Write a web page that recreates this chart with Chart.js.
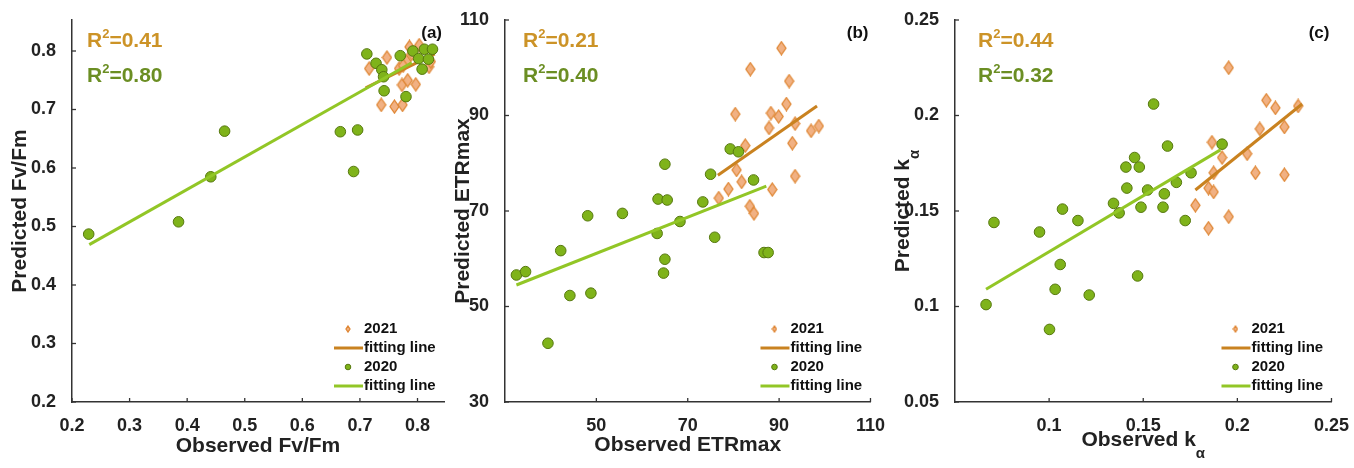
<!DOCTYPE html>
<html>
<head>
<meta charset="utf-8">
<script src="https://cdn.jsdelivr.net/npm/chart.js@4.4.1/dist/chart.umd.min.js"></script>
<style>
body { margin: 0; background: #fff; width: 1354px; height: 468px; overflow: hidden; position: relative; }
.panel { position: absolute; top: 0; height: 468px; }
</style>
</head>
<body>
<div class="panel" style="left:0;width:451px"><canvas id="chartA" width="451" height="468"></canvas></div>
<div class="panel" style="left:451px;width:439px"><canvas id="chartB" width="439" height="468"></canvas></div>
<div class="panel" style="left:890px;width:464px"><canvas id="chartC" width="464" height="468"></canvas></div>
<script>
// ---- (a) Fv/Fm ----
const obsA2020  = [0.229, 0.385, 0.441, 0.465, 0.666, 0.696, 0.689, 0.712, 0.728, 0.738, 0.741, 0.742, 0.770, 0.792, 0.802, 0.812, 0.826, 0.808, 0.780, 0.819];
const predA2020 = [0.487, 0.508, 0.585, 0.663, 0.662, 0.665, 0.594, 0.795, 0.779, 0.768, 0.756, 0.732, 0.792, 0.800, 0.787, 0.803, 0.803, 0.769, 0.722, 0.786];
const obsA2021  = [0.716, 0.747, 0.768, 0.781, 0.786, 0.803, 0.820, 0.823, 0.773, 0.783, 0.797, 0.737, 0.760, 0.774, 0.790, 0.775];
const predA2021 = [0.770, 0.789, 0.770, 0.782, 0.807, 0.810, 0.773, 0.782, 0.742, 0.750, 0.743, 0.708, 0.705, 0.708, 0.795, 0.775];
const fitA2020X = [0.23, 0.79];
const fitA2020Y = [0.469, 0.780];
const fitA2021X = [0.71, 0.83];
const fitA2021Y = [0.737, 0.795];
const ticksAX = [0.2, 0.3, 0.4, 0.5, 0.6, 0.7, 0.8];
const ticksAY = [0.2, 0.3, 0.4, 0.5, 0.6, 0.7, 0.8];
const r2A = ['0.41', '0.80'];

// ---- (b) ETRmax ----
const obsB2020  = [32.5, 34.5, 39.4, 42.2, 44.2, 48.1, 48.8, 55.7, 63.3, 63.5, 65.5, 65.0, 64.7, 65.0, 68.3, 73.3, 75.0, 75.9, 79.3, 81.1, 84.4, 86.7, 87.6];
const predB2020 = [56.6, 57.3, 42.3, 61.7, 52.3, 69.0, 52.8, 69.5, 65.3, 72.5, 72.3, 59.9, 57.0, 79.8, 67.8, 71.9, 77.7, 64.5, 83.0, 82.4, 76.5, 61.3, 61.3];
const obsB2021  = [90.5, 83.7, 92.2, 80.4, 91.6, 88.2, 89.9, 87.8, 93.5, 97.0, 98.7, 92.9, 93.5, 82.6, 80.7, 81.8, 78.9, 76.8, 83.6, 84.5, 88.5];
const predB2021 = [104.1, 99.7, 97.2, 90.3, 92.4, 90.5, 89.8, 87.4, 88.3, 86.8, 87.8, 84.2, 77.3, 83.7, 78.6, 76.1, 74.6, 72.7, 71.0, 69.5, 74.5];
const fitB2020X = [32.5, 87.2];
const fitB2020Y = [54.5, 75.2];
const fitB2021X = [76.6, 98.3];
const fitB2021Y = [77.5, 92.0];
const ticksBX = [50, 70, 90, 110];
const ticksBY = [30, 50, 70, 90, 110];
const r2B = ['0.21', '0.40'];

// ---- (c) k alpha ----
const obsC2020  = [0.0665, 0.0707, 0.0949, 0.1002, 0.1032, 0.1059, 0.1071, 0.1153, 0.1213, 0.1342, 0.1372, 0.1408, 0.1413, 0.1454, 0.1479, 0.1470, 0.1488, 0.1523, 0.1555, 0.1612, 0.1605, 0.1629, 0.1676, 0.1754, 0.1723, 0.1919];
const predC2020 = [0.101, 0.144, 0.139, 0.088, 0.109, 0.122, 0.151, 0.145, 0.106, 0.154, 0.149, 0.173, 0.162, 0.178, 0.173, 0.116, 0.152, 0.161, 0.206, 0.159, 0.152, 0.184, 0.165, 0.170, 0.145, 0.185];
const obsC2021  = [0.1954, 0.2154, 0.2202, 0.2323, 0.2119, 0.2250, 0.1865, 0.1919, 0.2052, 0.1874, 0.2096, 0.2250, 0.1847, 0.1874, 0.1777, 0.1847, 0.1954];
const predC2021 = [0.225, 0.208, 0.204, 0.205, 0.193, 0.194, 0.186, 0.178, 0.180, 0.170, 0.170, 0.169, 0.162, 0.160, 0.153, 0.141, 0.147];
const fitC2020X = [0.0665, 0.191];
const fitC2020Y = [0.109, 0.182];
const fitC2021X = [0.1777, 0.2344];
const fitC2021Y = [0.161, 0.206];
const ticksCX = [0.1, 0.15, 0.2, 0.25];
const ticksCY = [0.05, 0.1, 0.15, 0.2, 0.25];
const r2C = ['0.44', '0.32'];

const legendLabels = ['2021', 'fitting line', '2020', 'fitting line'];

const FONT = '"Liberation Sans", Arial, Helvetica, sans-serif';
const GREEN_FILL = '#7fb31a';
const GREEN_EDGE = '#56780f';
const GREEN_LINE = '#92c626';
const ORANGE_FILL = '#f1b183';
const ORANGE_EDGE = '#df8633';
const ORANGE_LINE = '#c98220';
const R2_2021 = '#cc9327';
const R2_2020 = '#6b8e23';
const AXIS = '#333';

function pts(xs, ys) {
  return xs.map((x, i) => ({ x: x, y: ys[i] }));
}

// tall diamond marker like the matlab one
function diamond(w, h) {
  const c = document.createElement('canvas');
  c.width = w; c.height = h;
  const g = c.getContext('2d');
  g.beginPath();
  g.moveTo(w / 2, 1); g.lineTo(w - 1, h / 2); g.lineTo(w / 2, h - 1); g.lineTo(1, h / 2);
  g.closePath();
  g.fillStyle = ORANGE_FILL; g.fill();
  g.lineWidth = 1.3; g.strokeStyle = ORANGE_EDGE; g.stroke();
  return c;
}
const bigDiamond = diamond(11, 15);

function rich(ctx, parts, x, y, align) {
  let w = 0;
  parts.forEach(p => { ctx.font = 'bold ' + p.size + 'px ' + FONT; w += ctx.measureText(p.t).width; });
  let cx = align === 'center' ? x - w / 2 : x;
  ctx.textAlign = 'left';
  ctx.textBaseline = 'middle';
  parts.forEach(p => {
    ctx.font = 'bold ' + p.size + 'px ' + FONT;
    ctx.fillText(p.t, cx, y + (p.dy || 0));
    cx += ctx.measureText(p.t).width;
  });
}

const decor = {
  id: 'decor',
  afterDraw(chart, args, o) {
    const ctx = chart.ctx;
    const a = chart.chartArea;
    const sx = chart.scales.x, sy = chart.scales.y;
    ctx.save();

    // inward tick marks
    ctx.strokeStyle = AXIS; ctx.lineWidth = 1.3;
    o.xt.forEach(v => {
      const px = sx.getPixelForValue(v);
      ctx.beginPath(); ctx.moveTo(px, a.bottom); ctx.lineTo(px, a.bottom - 4); ctx.stroke();
    });
    o.yt.forEach(v => {
      const py = sy.getPixelForValue(v);
      ctx.beginPath(); ctx.moveTo(a.left, py); ctx.lineTo(a.left + 4, py); ctx.stroke();
    });

    // axis titles
    ctx.fillStyle = '#222';
    rich(ctx, o.xTitle, (a.left + a.right) / 2, o.xTitleY, 'center');
    ctx.save();
    ctx.translate(o.yTitleX, (a.top + a.bottom) / 2);
    ctx.rotate(-Math.PI / 2);
    rich(ctx, o.yTitle, 0, 0, 'center');
    ctx.restore();

    // R2 texts
    const rx = a.left + o.r2dx;
    ctx.fillStyle = R2_2021;
    rich(ctx, [{ t: 'R', size: 21 }, { t: '2', size: 13, dy: -7 }, { t: '=' + o.r2[0], size: 21 }], rx, a.top + 21, 'left');
    ctx.fillStyle = R2_2020;
    rich(ctx, [{ t: 'R', size: 21 }, { t: '2', size: 13, dy: -7 }, { t: '=' + o.r2[1], size: 21 }], rx, a.top + 56, 'left');

    // panel letter
    ctx.fillStyle = '#111';
    ctx.font = 'bold 17px ' + FONT;
    ctx.textAlign = 'right'; ctx.textBaseline = 'middle';
    ctx.fillText(o.label, a.right - 2, 33);

    // legend
    const tx = a.right - 80;
    const rows = [a.bottom - 73, a.bottom - 54, a.bottom - 35, a.bottom - 16];
    ctx.drawImage(diamond(6, 8), tx - 19, rows[0] - 4);
    ctx.lineWidth = 3;
    ctx.strokeStyle = ORANGE_LINE;
    ctx.beginPath(); ctx.moveTo(tx - 30, rows[1]); ctx.lineTo(tx - 1, rows[1]); ctx.stroke();
    ctx.beginPath(); ctx.arc(tx - 16, rows[2], 2.8, 0, Math.PI * 2);
    ctx.fillStyle = GREEN_FILL; ctx.fill();
    ctx.lineWidth = 1; ctx.strokeStyle = GREEN_EDGE; ctx.stroke();
    ctx.lineWidth = 3; ctx.strokeStyle = GREEN_LINE;
    ctx.beginPath(); ctx.moveTo(tx - 30, rows[3]); ctx.lineTo(tx - 1, rows[3]); ctx.stroke();
    ctx.fillStyle = '#111';
    ctx.font = 'bold 15px ' + FONT;
    ctx.textAlign = 'left';
    legendLabels.forEach((s, i) => ctx.fillText(s, tx, rows[i]));

    ctx.restore();
  }
};

function makePanel(id, p) {
  const tickFont = { family: FONT, size: 18, weight: 'bold' };
  new Chart(document.getElementById(id), {
    type: 'scatter',
    data: {
      datasets: [
        { data: pts(p.fit20x, p.fit20y), showLine: true, borderColor: GREEN_LINE, borderWidth: 3, pointRadius: 0, order: 0 },
        { data: pts(p.x20, p.y20), pointStyle: 'circle', pointRadius: 5.3, backgroundColor: GREEN_FILL, borderColor: GREEN_EDGE, borderWidth: 1, order: 1 },
        { data: pts(p.fit21x, p.fit21y), showLine: true, borderColor: ORANGE_LINE, borderWidth: 3, pointRadius: 0, order: 2 },
        { data: pts(p.x21, p.y21), pointStyle: bigDiamond, pointRadius: 6, order: 3 }
      ]
    },
    options: {
      responsive: false,
      animation: false,
      events: [],
      layout: { padding: { left: 0, right: p.padRight, top: 20, bottom: 0 } },
      plugins: {
        legend: { display: false },
        tooltip: { enabled: false },
        decor: { xt: p.xt, yt: p.yt, xTitle: p.xTitle, xTitleY: p.xTitleY, yTitle: p.yTitle, yTitleX: p.yTitleX, r2: p.r2, r2dx: p.r2dx, label: p.label }
      },
      scales: {
        x: {
          type: 'linear', min: p.xmin, max: p.xmax,
          afterBuildTicks: s => { s.ticks = p.xl.map(v => ({ value: v })); },
          afterFit: s => { s.height = 66; },
          grid: { display: false },
          border: { display: true, color: AXIS, width: 1.5 },
          ticks: { color: '#222', font: tickFont, padding: 5, maxRotation: 0, autoSkip: false, callback: v => String(v) }
        },
        y: {
          type: 'linear', min: p.ymin, max: p.ymax,
          afterBuildTicks: s => { s.ticks = p.yt.map(v => ({ value: v })); },
          afterFit: s => { s.width = p.yWidth; },
          grid: { display: false },
          border: { display: true, color: AXIS, width: 1.5 },
          ticks: { color: '#222', font: tickFont, padding: 8, autoSkip: false, callback: v => String(v) }
        }
      }
    },
    plugins: [decor]
  });
}

makePanel('chartA', {
  x20: obsA2020, y20: predA2020, x21: obsA2021, y21: predA2021,
  fit20x: fitA2020X, fit20y: fitA2020Y, fit21x: fitA2021X, fit21y: fitA2021Y,
  xmin: 0.2, xmax: 0.846, ymin: 0.2, ymax: 0.853,
  xl: ticksAX, xt: ticksAX, yt: ticksAY,
  yWidth: 72, padRight: 6, yTitleX: 20, xTitleY: 446, r2dx: 15, r2: r2A, label: '(a)',
  xTitle: [{ t: 'Observed Fv/Fm', size: 21 }],
  yTitle: [{ t: 'Predicted Fv/Fm', size: 21 }]
});

makePanel('chartB', {
  x20: obsB2020, y20: predB2020, x21: obsB2021, y21: predB2021,
  fit20x: fitB2020X, fit20y: fitB2020Y, fit21x: fitB2021X, fit21y: fitB2021Y,
  xmin: 30, xmax: 110, ymin: 30, ymax: 110,
  xl: ticksBX, xt: ticksBX, yt: ticksBY,
  yWidth: 54, padRight: 8, yTitleX: 12, xTitleY: 445, r2dx: 18, r2: r2B, label: '(b)',
  xTitle: [{ t: 'Observed ETRmax', size: 21 }],
  yTitle: [{ t: 'Predicted ETRmax', size: 21 }]
});

makePanel('chartC', {
  x20: obsC2020, y20: predC2020, x21: obsC2021, y21: predC2021,
  fit20x: fitC2020X, fit20y: fitC2020Y, fit21x: fitC2021X, fit21y: fitC2021Y,
  xmin: 0.05, xmax: 0.25, ymin: 0.05, ymax: 0.25,
  xl: ticksCX, xt: ticksCX, yt: ticksCY,
  yWidth: 65, padRight: 22, yTitleX: 13, xTitleY: 440, r2dx: 23, r2: r2C, label: '(c)',
  xTitle: [{ t: 'Observed k', size: 21 }, { t: 'α', size: 15, dy: 14 }],
  yTitle: [{ t: 'Predicted k', size: 21 }, { t: 'α', size: 15, dy: 12 }]
});
</script>
</body>
</html>
